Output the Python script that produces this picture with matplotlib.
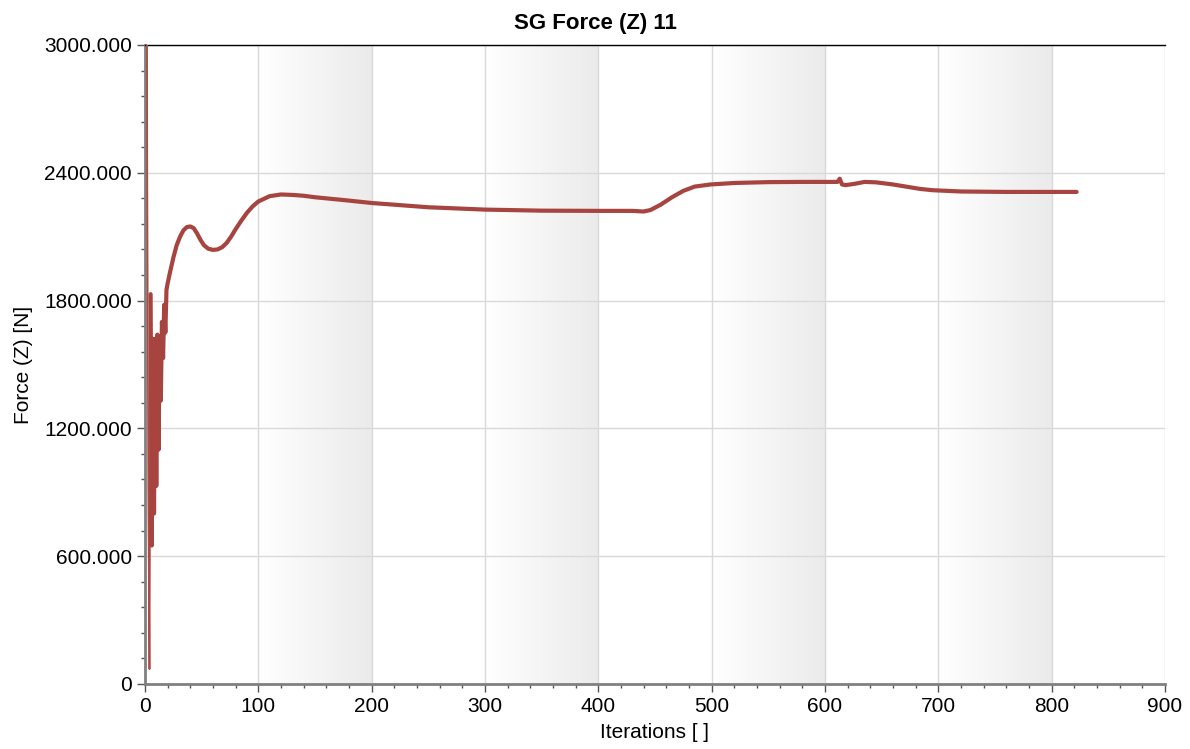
import matplotlib
matplotlib.use("Agg")
import matplotlib.pyplot as plt
import numpy as np
from matplotlib.ticker import MultipleLocator, FuncFormatter
from matplotlib.colors import LinearSegmentedColormap

plt.rcParams['font.family'] = ['Liberation Sans', 'DejaVu Sans']

title = "SG Force (Z) 11"
xlabel = "Iterations [ ]"
ylabel = "Force (Z) [N]"

iterations = [1, 2, 3, 4, 5, 6, 7, 8, 9, 10, 11, 12, 13, 14, 15, 16, 17, 18, 19, 20,
              22, 25, 28, 31, 34, 37, 40, 43, 46, 49, 52, 56, 60, 64, 68, 72, 76, 80, 85, 90,
              95, 100, 110, 120, 130, 140, 150, 175, 200, 250, 300, 350, 400, 430, 440,
              446, 455, 465, 475, 485, 499, 520, 550, 580, 611, 613, 615, 618, 625, 635,
              645, 660, 684, 695, 720, 760, 800, 822]
force = [6000, 2420, 900, 70, 1830, 650, 1620, 800, 1620, 930, 1640, 1100, 1630, 1330, 1700, 1530, 1780, 1650, 1850, 1880,
         1930, 2000, 2060, 2100, 2130, 2145, 2148, 2140, 2115, 2085, 2060, 2043, 2038, 2040, 2050, 2070, 2100, 2135, 2175, 2212,
         2242, 2265, 2290, 2298, 2296, 2292, 2285, 2272, 2258, 2238, 2227, 2222, 2221, 2221, 2218,
         2225, 2250, 2285, 2315, 2335, 2345, 2352, 2356, 2357, 2357, 2372, 2345, 2342, 2347, 2357,
         2355, 2345, 2324, 2318, 2312, 2310, 2310, 2310]

fig = plt.figure(figsize=(11.9, 7.49), dpi=100)
ax = fig.add_axes([0.1218, 0.0868, 0.979 - 0.1218, 0.94 - 0.0868])

grad = np.linspace(0, 1, 256).reshape(1, -1)
cmap = LinearSegmentedColormap.from_list("band", ["#ffffff", "#ebebeb"])
for start in [100, 300, 500, 700]:
    ax.imshow(grad, extent=[start, start + 100, 0, 3000], aspect='auto', cmap=cmap,
              zorder=0, interpolation='bilinear')

ax.set_xlim(0, 900)
ax.set_ylim(0, 3000)
ax.xaxis.set_major_locator(MultipleLocator(100))
ax.xaxis.set_minor_locator(MultipleLocator(20))
ax.yaxis.set_major_locator(MultipleLocator(600))
ax.yaxis.set_minor_locator(MultipleLocator(120))
ax.yaxis.set_major_formatter(FuncFormatter(lambda v, p: "0" if v == 0 else f"{v:.3f}"))
ax.grid(True, which='major', color='#d9d9d9', linewidth=1.0, zorder=1)
ax.set_axisbelow(True)

ax.plot(iterations[:5], force[:5], color='#b04a45', linewidth=1.3, zorder=3)
ax.plot(iterations[4:], force[4:], color='#a84440', linewidth=3.0, zorder=3,
        solid_joinstyle='round', solid_capstyle='round')

ax.tick_params(axis='both', which='major', length=6, width=1, color='#555555',
               labelsize=15, labelcolor='black', direction='out')
ax.tick_params(axis='both', which='minor', length=3, width=1, color='#555555', direction='out')

for s in ['left', 'bottom']:
    ax.spines[s].set_color('#808080')
    ax.spines[s].set_linewidth(2)
ax.spines['top'].set_color('black')
ax.spines['top'].set_linewidth(1)
ax.spines['right'].set_visible(False)

fig.text(0.5, 0.968, title, fontsize=16, fontweight='bold', ha='center', va='center')
ax.set_xlabel(xlabel, fontsize=15, labelpad=5)
ax.set_ylabel(ylabel, fontsize=15, labelpad=8)

fig.savefig("out.png", dpi=100)
